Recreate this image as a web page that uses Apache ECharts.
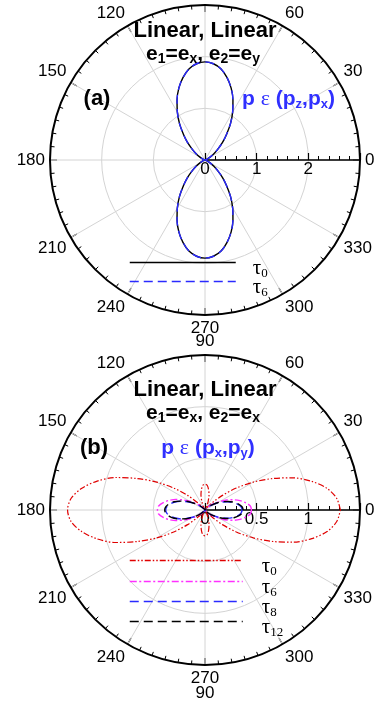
<!DOCTYPE html>
<html>
<head>
<meta charset="utf-8">
<script src="https://cdn.jsdelivr.net/npm/echarts@6/dist/echarts.min.js"></script>
<style>
html, body { margin: 0; padding: 0; background: #fff; }
#chart { width: 377px; height: 705px; }
</style>
</head>
<body>
<div id="chart"></div>
<script>
// 角度：上半圆 0..180，每 5 度一个点（下半圆按对称补齐）
var angles = [0, 5, 10, 15, 20, 25, 30, 35, 40, 45, 50, 55, 60, 65, 70, 75, 80, 85, 90,
              95, 100, 105, 110, 115, 120, 125, 130, 135, 140, 145, 150, 155, 160, 165, 170, 175, 180];

// (a) p in (pz,px)
var aTau0 = [0, 0, 0, 0.01, 0.03, 0.06, 0.12, 0.21, 0.32, 0.48, 0.65, 0.86, 1.07, 1.28, 1.48, 1.65, 1.79, 1.87, 1.90,
             1.87, 1.79, 1.65, 1.48, 1.28, 1.07, 0.86, 0.65, 0.48, 0.32, 0.21, 0.12, 0.06, 0.03, 0.01, 0, 0, 0];
var aTau6 = [0, 0, 0, 0.01, 0.03, 0.06, 0.12, 0.21, 0.32, 0.48, 0.65, 0.86, 1.07, 1.28, 1.48, 1.65, 1.79, 1.87, 1.90,
             1.87, 1.79, 1.65, 1.48, 1.28, 1.07, 0.86, 0.65, 0.48, 0.32, 0.21, 0.12, 0.06, 0.03, 0.01, 0, 0, 0];

// (b) p in (px,py)
var bTau0 = [1.31, 1.28, 1.20, 1.07, 0.91, 0.72, 0.54, 0.37, 0.22, 0.10, 0.03, 0, 0.01, 0.04, 0.09, 0.15, 0.20, 0.24, 0.25,
             0.24, 0.20, 0.15, 0.09, 0.04, 0.01, 0, 0.03, 0.10, 0.22, 0.37, 0.54, 0.72, 0.92, 1.08, 1.21, 1.30, 1.33];
var bTau6 = [0.45, 0.44, 0.40, 0.35, 0.29, 0.23, 0.16, 0.11, 0.07, 0.04, 0.02, 0.01, 0, 0, 0, 0, 0, 0, 0,
             0, 0, 0, 0, 0, 0, 0.01, 0.02, 0.04, 0.07, 0.11, 0.17, 0.23, 0.30, 0.36, 0.41, 0.45, 0.46];
var bTau8 = [0.36, 0.35, 0.32, 0.28, 0.23, 0.18, 0.13, 0.09, 0.06, 0.03, 0.02, 0.01, 0, 0, 0, 0, 0, 0, 0,
             0, 0, 0, 0, 0, 0, 0.01, 0.02, 0.03, 0.06, 0.09, 0.14, 0.19, 0.25, 0.30, 0.34, 0.37, 0.38];
var bTau12 = [0.37, 0.36, 0.33, 0.29, 0.24, 0.19, 0.14, 0.09, 0.06, 0.03, 0.02, 0.01, 0, 0, 0, 0, 0, 0, 0,
              0, 0, 0, 0, 0, 0, 0.01, 0.02, 0.03, 0.06, 0.10, 0.14, 0.20, 0.25, 0.31, 0.35, 0.38, 0.39];

var radiusMax = [3, 1.5];
var radiusStep = [1, 0.5];

var SANS = 'Liberation Sans, Arial, Helvetica, sans-serif';
var SERIF = 'Liberation Serif, Times New Roman, serif';
var BLUE = '#3030ff';

// 上半圆 + 对称的下半圆
function toPolar(r) {
    var d = [];
    for (var i = 0; i < angles.length; i++) d.push([r[i], angles[i]]);
    for (var j = angles.length - 2; j >= 0; j--) d.push([r[j], 360 - angles[j]]);
    return d;
}

function angleAxis(idx) {
    return {
        polarIndex: idx, type: 'value', min: 0, max: 360, interval: 30,
        startAngle: 0, clockwise: false,
        axisLine: { lineStyle: { color: '#000', width: 2 } },
        axisTick: { inside: true, length: 7, lineStyle: { color: '#000', width: 1.2 } },
        minorTick: { show: true, splitNumber: 6, length: 4, lineStyle: { color: '#000', width: 1 } },
        splitLine: { lineStyle: { color: '#d4d4d4', width: 1 } },
        axisLabel: { color: '#000', fontSize: 17, fontFamily: SANS, margin: 5 }
    };
}

function radiusAxis(idx) {
    return {
        polarIndex: idx, type: 'value', min: 0, max: radiusMax[idx], interval: radiusStep[idx],
        axisLine: { lineStyle: { color: '#000', width: 1.5 } },
        axisTick: { length: 7, lineStyle: { color: '#000', width: 1.2 } },
        minorTick: { show: true, splitNumber: 5, length: 4, lineStyle: { color: '#000', width: 1 } },
        splitLine: { lineStyle: { color: '#d4d4d4', width: 1 } },
        axisLabel: { color: '#000', fontSize: 17, fontFamily: SANS, margin: -18, showMaxLabel: false }
    };
}

function curve(name, idx, r, color, dash, width) {
    return {
        name: name, type: 'line', coordinateSystem: 'polar', polarIndex: idx,
        data: toPolar(r), symbol: 'none', smooth: 0.3,
        lineStyle: { color: color, type: dash, width: width || 1.3 },
        itemStyle: { color: color }
    };
}

// 图例：每条单独一个 legend，τ 加下标
var LEG_OFF = 17;
function legendItem(name, lineY, w, padL) {
    return {
        data: [name], orient: 'vertical', left: 129, top: lineY - LEG_OFF, padding: 0,
        itemWidth: w, itemHeight: 14, selectedMode: false,
        itemStyle: { opacity: 0 },
        lineStyle: { width: 1.5 },
        formatter: function (n) { return '{t|τ}{s|' + n.slice(1) + '}'; },
        textStyle: {
            rich: {
                t: { fontFamily: SERIF, fontSize: 21, color: '#000', lineHeight: 14, padding: [12, 0, 0, padL] },
                s: { fontFamily: SERIF, fontSize: 13, color: '#000', lineHeight: 14, padding: [22, 0, 0, 0] }
            }
        }
    };
}

function txt(x, y, text, rich, align) {
    return {
        type: 'text', x: x, y: y, z: 10,
        style: { text: text, rich: rich, align: align || 'center', verticalAlign: 'middle',
                 textAlign: align || 'center', textVerticalAlign: 'middle' }
    };
}

var richBlack = {
    h: { fontSize: 22, fontWeight: 'bold', fontFamily: SANS, fill: '#000', color: '#000', lineHeight: 24 },
    b: { fontSize: 21, fontWeight: 'bold', fontFamily: SANS, fill: '#000', color: '#000', lineHeight: 22 },
    s: { fontSize: 14, fontWeight: 'bold', fontFamily: SANS, fill: '#000', color: '#000', lineHeight: 22, padding: [10, 0, 0, 0] }
};
var richBlue = {
    p: { fontSize: 21, fontWeight: 'bold', fontFamily: SANS, fill: BLUE, color: BLUE, lineHeight: 22 },
    e: { fontSize: 22, fontFamily: SERIF, fill: BLUE, color: BLUE, lineHeight: 22 },
    s: { fontSize: 13, fontWeight: 'bold', fontFamily: SANS, fill: BLUE, color: BLUE, lineHeight: 22, padding: [10, 0, 0, 0] }
};

var chart = echarts.init(document.getElementById('chart'), null, { renderer: 'canvas' });

var option = {
    backgroundColor: '#fff',
    animation: false,
    polar: [
        { center: [205, 160], radius: 155 },
        { center: [205, 510], radius: 155 }
    ],
    angleAxis: [angleAxis(0), angleAxis(1)],
    radiusAxis: [radiusAxis(0), radiusAxis(1)],
    legend: [
        legendItem('a0', 262, 106, 12),
        legendItem('a6', 281, 106, 12),
        legendItem('b0', 560, 113, 14),
        legendItem('b6', 581, 113, 14),
        legendItem('b8', 601, 113, 14),
        legendItem('b12', 621, 113, 14)
    ],
    series: [
        curve('a0', 0, aTau0, '#000', 'solid', 1.4),
        curve('a6', 0, aTau6, '#2a2aff', [9, 5], 1.4),
        curve('b0', 1, bTau0, '#e00000', [6, 2, 1.5, 2, 1.5, 2], 1.2),
        curve('b6', 1, bTau6, '#ff30ff', [7, 2.5, 2, 2.5], 1.4),
        curve('b8', 1, bTau8, '#2a2aff', [9, 5], 1.4),
        curve('b12', 1, bTau12, '#000', [9, 5], 1.4)
    ],
    graphic: [
        txt(205, 31, '{h|Linear, Linear}', richBlack),
        txt(203, 54, '{b|e}{s|1}{b|=e}{s|x}{b|, e}{s|2}{b|=e}{s|y}', richBlack),
        txt(97, 99, '{h|(a)}', richBlack),
        txt(242, 99, '{p|p }{e|ε}{p| (p}{s|z}{p|,p}{s|x}{p|)}', richBlue, 'left'),

        txt(205, 390, '{h|Linear, Linear}', richBlack),
        txt(203, 413, '{b|e}{s|1}{b|=e}{s|x}{b|, e}{s|2}{b|=e}{s|x}', richBlack),
        txt(94, 448, '{h|(b)}', richBlack),
        txt(208, 448, '{p|p }{e|ε}{p| (p}{s|x}{p|,p}{s|y}{p|)}', richBlue),

        // 下一幅图的 90 标签（被截断）
        { type: 'text', x: 205, y: 693, style: { text: '90', font: '17px ' + SANS, fill: '#000',
            align: 'center', verticalAlign: 'middle', textAlign: 'center', textVerticalAlign: 'middle' } }
    ]
};

chart.setOption(option);
</script>
</body>
</html>
